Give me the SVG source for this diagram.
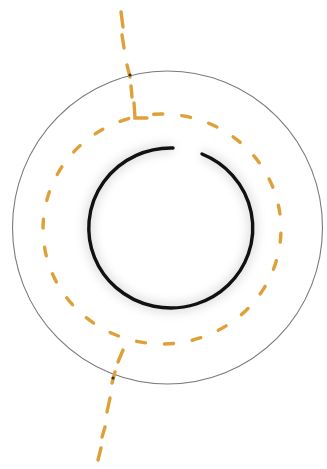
<svg xmlns="http://www.w3.org/2000/svg" width="327" height="469" viewBox="0 0 327 469">
<defs>
<style>
.pencil{fill:none;stroke:#7a7a7a;stroke-width:1.1}
.ink{fill:none;stroke:#111;stroke-width:3.4;stroke-linecap:round}
.dash{fill:none;stroke:#DFA03A;stroke-width:3.4;stroke-linecap:round}
</style>
<filter id="blur" x="-20%" y="-20%" width="140%" height="140%"><feGaussianBlur stdDeviation="5"/></filter>
</defs>
<rect width="327" height="469" fill="#ffffff"/>
<g id="outer-circle">
<ellipse class="pencil" cx="167.5" cy="227.5" rx="155" ry="156.5"/>
</g>
<g id="dashed-ring">
<path class="dash" stroke-dasharray="9 19" stroke-dashoffset="9" d="M135,117 A118,114 0 0 1 189,341 A118,114 0 0 1 135,117"/>
</g>
<g id="inner-circle">
<path d="M173,148 A82,80 0 1 0 202,154" fill="none" stroke="#bdbdbd" stroke-width="10" opacity="0.45" filter="url(#blur)"/>
<path class="ink" d="M173,148 A82,80 0 1 0 202,154"/>
</g>
<g id="axis-line">
<path class="dash" d="M121,12 L123,27 M122,35 L124,48 M127,65 L130,77 M131,86 L132,97 M134,103 L135,118 L147,118"/>
<path class="dash" d="M123,350 L118,362 M115,372 L112,383 M110,398 L107,412 M105,427 L102,437 M101,448 L98,460"/>
<circle cx="130" cy="75" r="1.6" fill="#333"/>
<circle cx="113" cy="378" r="1.6" fill="#333"/>
</g>
</svg>
